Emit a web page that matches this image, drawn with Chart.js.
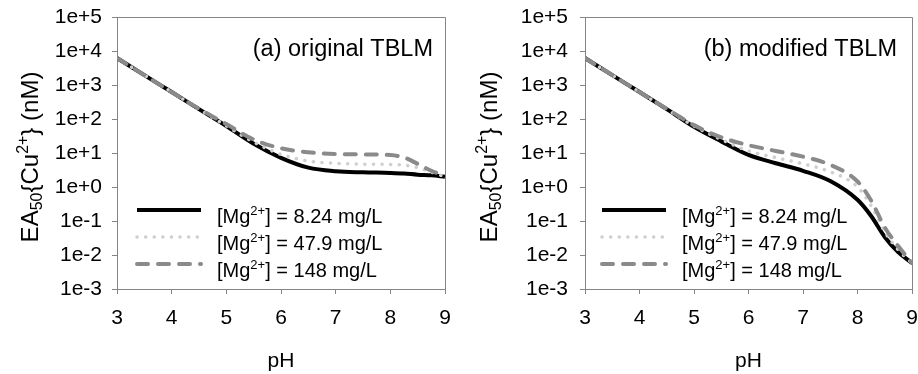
<!DOCTYPE html>
<html>
<head>
<meta charset="utf-8">
<script src="https://cdn.jsdelivr.net/npm/chart.js@4"></script>
<style>
  body { margin: 0; background: #fff; }
  .panel { position: absolute; top: 0; width: 459px; height: 374px; }
  #panelA { left: 0; }
  #panelB { left: 459px; }
</style>
</head>
<body>
<div class="panel" id="panelA"><canvas id="chartA"></canvas></div>
<div class="panel" id="panelB"><canvas id="chartB"></canvas></div>
<script>
const phValues = [3, 3.5, 4, 4.5, 5, 5.5, 6, 6.5, 7, 7.5, 8, 8.25, 8.5, 8.75, 9];
const mgLabels = ['8.24', '47.9', '148'];

// (a) original TBLM
const originalLow  = [6200, 1950, 620, 195, 62, 18.6, 7.2, 3.7, 2.9, 2.7, 2.6, 2.5, 2.3, 2.2, 2.0];
const originalMid  = [6200, 1950, 620, 195, 63, 21, 9.1, 5.8, 5.0, 4.7, 4.6, 4.4, 3.7, 2.75, 2.0];
const originalHigh = [6200, 1950, 620, 200, 71, 25, 13.8, 10.5, 9.3, 9.1, 8.7, 7.4, 4.8, 3.0, 2.1];

// (b) modified TBLM
const modifiedLow  = [6200, 1950, 620, 195, 59, 22, 8.8, 5.0, 3.0, 1.5, 0.42, 0.14, 0.034, 0.012, 0.0058];
const modifiedMid  = [6200, 1950, 620, 195, 62, 25, 11.5, 7.3, 4.8, 2.8, 1.0, 0.28, 0.048, 0.014, 0.0058];
const modifiedHigh = [6200, 1950, 620, 200, 66, 29, 17, 11.5, 7.8, 4.5, 1.45, 0.4, 0.065, 0.018, 0.0058];

const yTickValues = [1e-3, 1e-2, 1e-1, 1e0, 1e1, 1e2, 1e3, 1e4, 1e5];
const xTickValues = [3, 4, 5, 6, 7, 8, 9];

const FONT = '"Liberation Sans", Arial, sans-serif';
const axisGrey = '#858585';

const lineStyles = [
  { borderColor: '#000000', borderWidth: 4, borderDash: [], borderCapStyle: 'butt', order: 3 },
  { borderColor: '#cfcfcf', borderWidth: 3.5, borderDash: [0.1, 8.5], borderCapStyle: 'round', order: 2 },
  { borderColor: '#8a8a8a', borderWidth: 4, borderDash: [11, 10], borderCapStyle: 'round', order: 1 }
];

// draws text pieces with sub/superscripts along a baseline
function drawRich(ctx, parts, x, y) {
  let cx = x;
  parts.forEach(p => {
    ctx.font = p.size + 'px ' + FONT;
    ctx.fillText(p.text, cx, y + (p.dy || 0));
    cx += ctx.measureText(p.text).width;
  });
  return cx - x;
}

function richWidth(ctx, parts) {
  let w = 0;
  parts.forEach(p => {
    ctx.font = p.size + 'px ' + FONT;
    w += ctx.measureText(p.text).width;
  });
  return w;
}

const yTitleParts = [
  { text: 'EA', size: 24 },
  { text: '50', size: 16, dy: 4 },
  { text: '{Cu', size: 24 },
  { text: '2+', size: 16, dy: -10 },
  { text: '} (nM)', size: 24 }
];

const extrasPlugin = {
  id: 'extras',
  afterDraw(chart) {
    const ctx = chart.ctx;
    const area = chart.chartArea;
    const opts = chart.options.plugins.extras;
    ctx.save();

    // frame top and right
    ctx.strokeStyle = axisGrey;
    ctx.lineWidth = 1;
    ctx.beginPath();
    ctx.moveTo(area.left, area.top + 0.5);
    ctx.lineTo(area.right + 0.5, area.top + 0.5);
    ctx.lineTo(area.right + 0.5, area.bottom);
    ctx.stroke();

    ctx.fillStyle = '#000';
    ctx.textBaseline = 'alphabetic';

    // panel title
    ctx.font = '23.5px ' + FONT;
    ctx.textAlign = 'right';
    ctx.fillText(opts.title, area.right - opts.titleGap, 56);
    ctx.textAlign = 'left';

    // y axis title, rotated
    ctx.save();
    const w = richWidth(ctx, yTitleParts);
    ctx.translate(opts.yTitleX, 157);
    ctx.rotate(-Math.PI / 2);
    drawRich(ctx, yTitleParts, -w / 2, 0);
    ctx.restore();

    // legend
    const rows = [210, 237, 264];
    chart.data.datasets.forEach((ds, i) => {
      const y = rows[i];
      ctx.save();
      ctx.strokeStyle = ds.borderColor;
      ctx.lineWidth = ds.borderWidth;
      ctx.setLineDash(ds.borderDash);
      ctx.lineCap = ds.borderCapStyle;
      ctx.beginPath();
      ctx.moveTo(area.left + opts.legendX, y);
      ctx.lineTo(area.left + opts.legendX + 64, y);
      ctx.stroke();
      ctx.restore();
      drawRich(ctx, [
        { text: '[Mg', size: 20 },
        { text: '2+', size: 13, dy: -8 },
        { text: '] = ' + mgLabels[i] + ' mg/L', size: 20 }
      ], area.left + opts.legendX + 80, y + 13);
    });
    ctx.restore();
  }
};

function makePanel(canvasId, low, mid, high, panel) {
  const series = [low, mid, high];
  const datasets = series.map((vals, i) => Object.assign({
    label: '[Mg2+] = ' + mgLabels[i] + ' mg/L',
    data: phValues.map((ph, j) => ({ x: ph, y: vals[j] })),
    pointRadius: 0,
    fill: false,
    cubicInterpolationMode: 'monotone'
  }, lineStyles[i]));

  return new Chart(document.getElementById(canvasId), {
    type: 'line',
    data: { datasets: datasets },
    options: {
      responsive: true,
      maintainAspectRatio: false,
      animation: false,
      layout: { padding: { top: 17, right: panel.padRight, bottom: 0, left: 0 } },
      plugins: {
        legend: { display: false },
        tooltip: { enabled: false },
        extras: { title: panel.title, titleGap: panel.titleGap, yTitleX: panel.yTitleX, legendX: panel.legendX }
      },
      scales: {
        x: {
          type: 'linear',
          min: 3,
          max: 9,
          afterBuildTicks: s => { s.ticks = xTickValues.map(v => ({ value: v })); },
          afterFit: s => { s.height = 85; s.paddingLeft = 0; s.paddingRight = 0; },
          ticks: { color: '#000', font: { family: FONT, size: 21 }, padding: 12, maxRotation: 0 },
          grid: { drawOnChartArea: false, drawTicks: true, tickLength: 5, color: axisGrey },
          border: { display: true, color: axisGrey },
          title: { display: true, text: 'pH', color: '#000', font: { family: FONT, size: 21 }, padding: { top: 0, bottom: 0 } }
        },
        y: {
          type: 'logarithmic',
          min: 1e-3,
          max: 1e5,
          afterBuildTicks: s => { s.ticks = yTickValues.map(v => ({ value: v })); },
          afterFit: s => { s.width = panel.yWidth; s.paddingTop = 0; s.paddingBottom = 0; },
          ticks: {
            color: '#000',
            font: { family: FONT, size: 21 },
            padding: panel.yPad,
            callback: v => Number(v).toExponential(0)
          },
          grid: { drawOnChartArea: false, drawTicks: true, tickLength: 5, color: axisGrey },
          border: { display: true, color: axisGrey }
        }
      }
    },
    plugins: [extrasPlugin]
  });
}

makePanel('chartA', originalLow, originalMid, originalHigh,
  { title: '(a) original TBLM', titleGap: 12, yTitleX: 38, yWidth: 117, yPad: 10, padRight: 14, legendX: 20 });
makePanel('chartB', modifiedLow, modifiedMid, modifiedHigh,
  { title: '(b) modified TBLM', titleGap: 15, yTitleX: 38, yWidth: 126, yPad: 12, padRight: 6, legendX: 17 });
</script>
</body>
</html>
